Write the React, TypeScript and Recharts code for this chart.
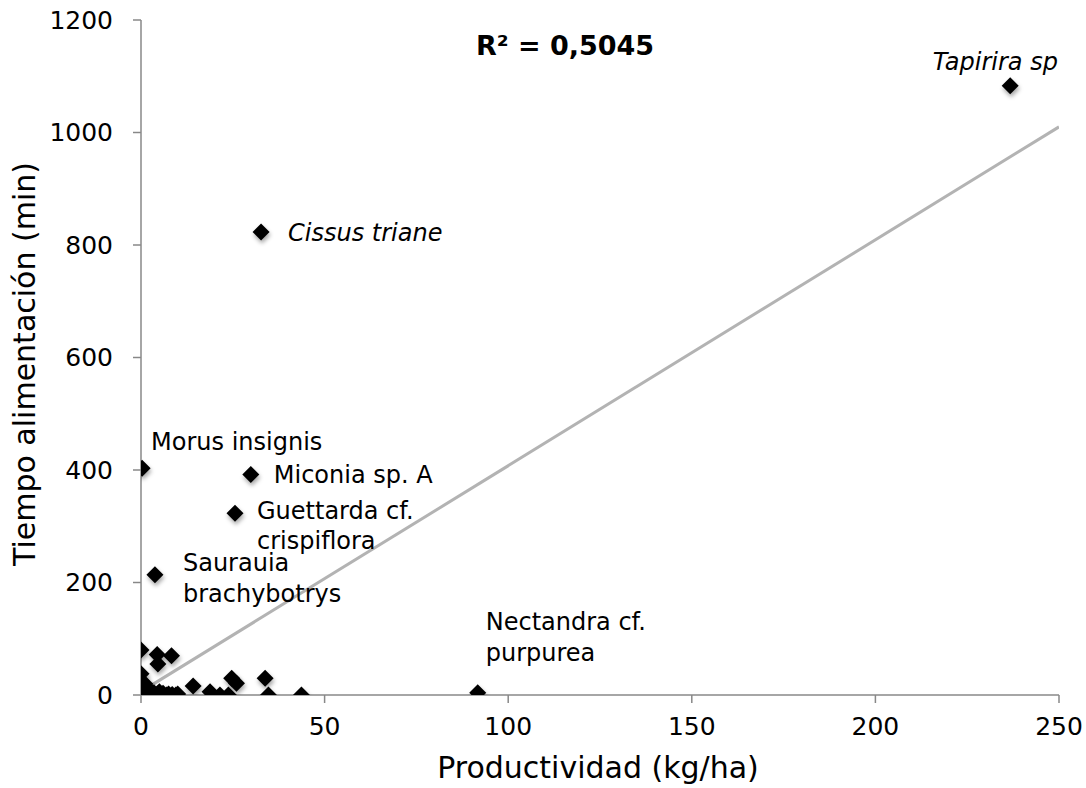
import React from 'react';
import { ScatterChart, Scatter, XAxis, YAxis } from 'recharts';

// Unlabeled observations (Productividad kg/ha, Tiempo alimentación min)
const prodValues = [
  0, 4.4, 8.3, 4.6, 0, 14.2, 18.8, 21.5, 23.8, 24.7, 26, 33.8, 34.7, 43.7,
  0, 0.2, 0.3, 0.5, 0.5, 0.8, 1, 1, 1.2, 1.5, 2, 2.5, 3, 3.5, 4, 4.5, 5, 5.5, 6, 7, 7.5, 8.5, 9.5, 10, 0.1, 1.5, 0.4, 2.2
];
const timeValues = [
  80, 72, 70, 55, 38, 16, 6, 0, 0, 30, 21, 30, 0, 0,
  0, 2, 5, 10, 15, 1, 3, 20, 6, 0, 2, 8, 1, 4, 0, 2, 6, 1, 3, 0, 2, 1, 0, 2, 25, 12, -3, -2
];

// Labeled species
const speciesNames = ['Tapirira sp.', 'Cissus triane', 'Morus insignis', 'Miconia sp. A', 'Guettarda cf. crispiflora', 'Saurauia brachybotrys', 'Nectandra cf. purpurea'];
const speciesProd = [236.7, 32.7, 0.3, 29.9, 25.6, 3.8, 91.7];
const speciesTime = [1083, 823, 403, 392, 323, 214, 4];

// Linear trend (R² = 0,5045)
const trendX = [0, 250];
const trendY = [6, 1010];

const xTicks = [0, 50, 100, 150, 200, 250];
const yTicks = [0, 200, 400, 600, 800, 1000, 1200];

const r2Text = 'R² = 0,5045';
const xTitle = 'Productividad (kg/ha)';
const yTitle = 'Tiempo alimentación (min)';

const points = prodValues.map((x, i) => ({ x, y: timeValues[i] }));
const labeled = speciesNames.map((name, i) => ({ x: speciesProd[i], y: speciesTime[i], name }));
const trend = trendX.map((x, i) => ({ x, y: trendY[i] }));

// label layout (styles only)
const labelLayout: Record<string, { lines: string[]; dx: number; dys: number[]; italic?: boolean; anchor?: string }> = {
  'Tapirira sp.': { lines: ['Tapirira sp.'], dx: -11, dys: [-16], italic: true, anchor: 'middle' },
  'Cissus triane': { lines: ['Cissus triane'], dx: 27, dys: [9], italic: true },
  'Morus insignis': { lines: ['Morus insignis'], dx: 9, dys: [-18] },
  'Miconia sp. A': { lines: ['Miconia sp. A'], dx: 23, dys: [8] },
  'Guettarda cf. crispiflora': { lines: ['Guettarda cf.', 'crispiflora'], dx: 22, dys: [6, 36] },
  'Saurauia brachybotrys': { lines: ['Saurauia', 'brachybotrys'], dx: 28, dys: [-4, 27] },
  'Nectandra cf. purpurea': { lines: ['Nectandra cf.', 'purpurea'], dx: 8, dys: [-63, -32] },
};

const FONT = '"DejaVu Sans", Verdana, sans-serif';
const AXIS = '#888888';

const Diamond = (props: any) => {
  const { cx, cy } = props;
  if (cx == null || cy == null) return null;
  const r = 8.5;
  return (
    <polygon
      points={`${cx},${cy - r} ${cx + r},${cy} ${cx},${cy + r} ${cx - r},${cy}`}
      fill="#000"
      style={{ filter: 'drop-shadow(1px 3px 2px rgba(0,0,0,0.35))' }}
    />
  );
};

const LabeledDiamond = (props: any) => {
  const { cx, cy, payload } = props;
  if (cx == null || cy == null) return null;
  const lay = labelLayout[payload.name];
  return (
    <g>
      <Diamond cx={cx} cy={cy} />
      {lay.lines.map((ln, i) => (
        <text
          key={i}
          x={cx + lay.dx}
          y={cy + lay.dys[i]}
          fontFamily={FONT}
          fontSize={24}
          fontStyle={lay.italic ? 'italic' : 'normal'}
          textAnchor={lay.anchor || 'start'}
          fill="#000"
        >
          {ln}
        </text>
      ))}
    </g>
  );
};

const NoShape = () => null;

const YTitle = () => {
  const x = 35;
  const cy = 364;
  return (
    <text x={x} y={cy} transform={`rotate(-90 ${x} ${cy})`} textAnchor="middle" fontFamily={FONT} fontSize={30} fill="#000">
      {yTitle}
    </text>
  );
};

const XTitle = () => (
  <text x={598} y={778} textAnchor="middle" fontFamily={FONT} fontSize={30} fill="#000">
    {xTitle}
  </text>
);

export default function App() {
  return (
    <div style={{ position: 'absolute', left: 0, top: 0, width: 1086, height: 788, background: '#fff' }}>
      <ScatterChart width={1086} height={788} margin={{ top: 20, right: 27, bottom: 0, left: 0 }}>
        <XAxis
          type="number"
          dataKey="x"
          domain={[0, 250]}
          ticks={xTicks}
          allowDataOverflow
          height={93}
          stroke={AXIS}
          strokeWidth={1.5}
          tickSize={8}
          tickMargin={14}
          tick={{ fill: '#000', fontSize: 25, fontFamily: FONT }}
          label={<XTitle />}
        />
        <YAxis
          type="number"
          dataKey="y"
          domain={[0, 1200]}
          ticks={yTicks}
          allowDataOverflow
          width={141}
          stroke={AXIS}
          strokeWidth={1.5}
          tickSize={8}
          tickMargin={20}
          tick={{ fill: '#000', fontSize: 25, fontFamily: FONT }}
          label={<YTitle />}
        />
        <Scatter data={trend} line={{ stroke: '#b3b3b3', strokeWidth: 3 }} shape={NoShape} isAnimationActive={false} />
        <Scatter data={points} shape={Diamond} isAnimationActive={false} />
        <Scatter data={labeled} shape={LabeledDiamond} isAnimationActive={false} />
        <text x={565} y={55} textAnchor="middle" fontFamily={FONT} fontSize={27} fontWeight="bold" fill="#000">
          {r2Text}
        </text>
      </ScatterChart>
    </div>
  );
}
